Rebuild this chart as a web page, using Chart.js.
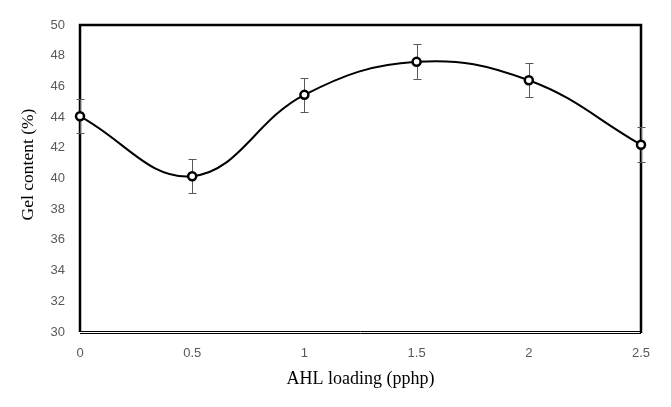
<!DOCTYPE html>
<html lang="en">
  <head>
    <meta charset="UTF-8" />
    <title>Gel content vs AHL loading</title>
    <style>
      body {
        margin: 0;
        background: #ffffff;
      }
      .chart-container {
        width: 671px;
        height: 407px;
        position: relative;
      }
    </style>
  </head>
  <body>
    <div class="chart-container">
      <canvas id="gelChart"></canvas>
    </div>
    <script src="https://cdn.jsdelivr.net/npm/chart.js@4"></script>
    <script>
      const loading = [0, 0.5, 1, 1.5, 2, 2.5];
      const gelContent = [44.05, 40.15, 45.45, 47.6, 46.4, 42.2];
      const gelError = [1.1, 1.1, 1.1, 1.15, 1.1, 1.15];
      const xTicks = [0, 0.5, 1, 1.5, 2, 2.5];
      const yTicks = [30, 32, 34, 36, 38, 40, 42, 44, 46, 48, 50];
      const yTitle = "Gel content (%)";

      const points = loading.map((x, i) => ({ x: x, y: gelContent[i] }));

      const tickFont = { family: "'Liberation Sans', Arial, sans-serif", size: 13 };
      const titleFont = { family: "'Liberation Serif', 'Times New Roman', serif", size: 17.5, weight: "normal" };

      // frame around the plot area (double line at the bottom), error bars, y title
      const framePlugin = {
        id: "frame",
        beforeDatasetsDraw(chart) {
          const { ctx, chartArea: a, scales } = chart;
          ctx.save();
          ctx.strokeStyle = "#000";
          ctx.lineWidth = 2.5;
          ctx.beginPath();
          ctx.moveTo(a.left, a.bottom);
          ctx.lineTo(a.left, a.top);
          ctx.lineTo(a.right, a.top);
          ctx.lineTo(a.right, a.bottom + 1);
          ctx.stroke();
          ctx.lineWidth = 1;
          ctx.beginPath();
          ctx.moveTo(a.left, a.bottom - 0.5);
          ctx.lineTo(a.right, a.bottom - 0.5);
          ctx.moveTo(a.left, a.bottom + 1.5);
          ctx.lineTo(a.right, a.bottom + 1.5);
          ctx.stroke();

          // error bars
          ctx.strokeStyle = "#595959";
          ctx.lineWidth = 1;
          ctx.beginPath();
          loading.forEach((xv, i) => {
            const x = Math.round(scales.x.getPixelForValue(xv)) + 0.5;
            const yTop = Math.round(scales.y.getPixelForValue(gelContent[i] + gelError[i])) + 0.5;
            const yBot = Math.round(scales.y.getPixelForValue(gelContent[i] - gelError[i])) + 0.5;
            ctx.moveTo(x, yTop);
            ctx.lineTo(x, yBot);
            ctx.moveTo(x - 4, yTop);
            ctx.lineTo(x + 4, yTop);
            ctx.moveTo(x - 4, yBot);
            ctx.lineTo(x + 4, yBot);
          });
          ctx.stroke();

          // y axis title (sits a bit above the middle in the original)
          ctx.translate(28, a.top + (a.bottom - a.top) / 2 - 14);
          ctx.rotate(-Math.PI / 2);
          ctx.fillStyle = "#000";
          ctx.font = `${titleFont.size}px ${titleFont.family}`;
          ctx.textAlign = "center";
          ctx.textBaseline = "middle";
          ctx.fillText(yTitle, 0, 0);
          ctx.restore();
        },
      };

      new Chart(document.getElementById("gelChart"), {
        type: "line",
        data: {
          datasets: [
            {
              data: points,
              borderColor: "#000",
              borderWidth: 2,
              tension: 0.4,
              pointRadius: 4,
              pointBorderWidth: 2.5,
              pointBackgroundColor: "#fff",
              pointBorderColor: "#000",
              clip: false,
            },
          ],
        },
        options: {
          responsive: true,
          maintainAspectRatio: false,
          animation: false,
          layout: { padding: { top: 25, right: 30, left: 0, bottom: 0 } },
          plugins: {
            legend: { display: false },
            tooltip: { enabled: false },
          },
          scales: {
            x: {
              type: "linear",
              min: 0,
              max: 2.5,
              afterBuildTicks: (s) => {
                s.ticks = xTicks.map((v) => ({ value: v }));
              },
              afterFit: (s) => {
                s.height = 75;
              },
              grid: { display: false, drawTicks: false },
              border: { display: false },
              ticks: {
                color: "#595959",
                font: tickFont,
                padding: 14,
                maxRotation: 0,
                callback: (v) => String(v),
              },
              title: {
                display: true,
                text: "AHL loading (pphp)",
                color: "#000",
                font: { ...titleFont, size: 18 },
                padding: { top: 0, bottom: 17 },
              },
            },
            y: {
              min: 30,
              max: 50,
              afterBuildTicks: (s) => {
                s.ticks = yTicks.map((v) => ({ value: v }));
              },
              afterFit: (s) => {
                s.width = 80;
              },
              grid: { display: false, drawTicks: false },
              border: { display: false },
              ticks: { color: "#595959", font: tickFont, padding: 15 },
              title: { display: false },
            },
          },
        },
        plugins: [framePlugin],
      });
    </script>
  </body>
</html>
